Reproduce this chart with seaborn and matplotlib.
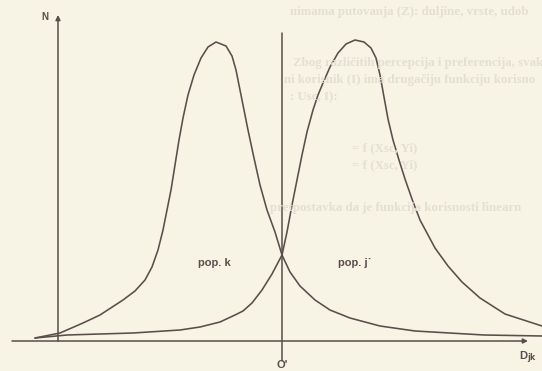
import numpy as np
import pandas as pd
import matplotlib
matplotlib.use("Agg")
import matplotlib.pyplot as plt
import seaborn as sns

# curve values (D along the axis, N upwards)
pop_k_d = [-23, 2, 25, 42, 65, 77, 87, 94, 100, 105, 109, 113, 117, 121, 125, 130, 136, 143, 150, 158,
           168, 174, 178, 181, 185, 190, 196, 202, 209, 217, 224, 232, 242, 257, 272, 292, 322, 357, 426, 484]
pop_k_n = [3, 8, 18, 26, 41, 50, 61, 74, 91, 111, 131, 151, 176, 201, 223, 246, 266, 283, 294, 299,
           295, 285, 271, 256, 236, 211, 183, 156, 131, 109, 86, 69, 55, 41, 31, 23, 15, 10, 6, 5]

pop_j_d = [-23, 9, 75, 122, 142, 162, 177, 185, 194, 204, 214, 224, 229, 234, 239, 244, 249, 255, 260, 265,
           272, 280, 288, 297, 306, 313, 318, 322, 326, 330, 335, 341, 347, 354, 362, 377, 390, 404, 422, 447, 484]
pop_j_n = [3, 6, 8, 11, 14, 19, 26, 30, 38, 51, 67, 86, 109, 136, 161, 186, 209, 231, 246, 258,
           274, 288, 297, 301, 299, 293, 283, 266, 244, 222, 201, 181, 162, 142, 121, 93, 75, 59, 43, 27, 15]

d_zero = 224  # O' - where the two populations cross

labels = ["pop. k", "pop. j˙"]

# faint text showing through from the other side of the page
bg_lines = ["nimama putovanja (Z): duljine, vrste, udob",
            "Zbog različitih percepcija i preferencija, svak",
            "ni korisnik (I) ima drugačiju funkciju korisno",
            ": Usc, I):",
            "= f (Xsc, Yi)",
            "= f (Xsc, Yi)",
            "pretpostavka da je funkcija korisnosti linearn"]
bg_x = [290, 293, 284, 290, 352, 352, 270]
bg_y = [12, 63, 80, 97, 148, 165, 208]

ink = "#5b4d4b"
paper = "#f7f3e5"

sns.set_style("white")

fig = plt.figure(figsize=(5.42, 3.71), dpi=100)
fig.patch.set_facecolor(paper)
ax = fig.add_axes([0, 0, 1, 1])
ax.set_facecolor(paper)

for t, x, y in zip(bg_lines, bg_x, bg_y):
    fig.text(x / 542, 1 - y / 371, t, fontsize=9.3, family="Liberation Serif", fontweight="bold",
             color="#e4dfd3", va="center", ha="left", zorder=0)

df = pd.concat([
    pd.DataFrame({"D": pop_k_d, "N": pop_k_n, "pop": "k"}),
    pd.DataFrame({"D": pop_j_d, "N": pop_j_n, "pop": "j"}),
])
sns.lineplot(data=df, x="D", y="N", units="pop", estimator=None, sort=False,
             color=ink, linewidth=1.15, ax=ax, legend=False)

# axes with arrows
ax.annotate("", xy=(470, 0), xytext=(-46, 0),
            arrowprops=dict(arrowstyle="-|>", color=ink, lw=1.1, mutation_scale=7, shrinkA=0, shrinkB=0))
ax.annotate("", xy=(0, 326), xytext=(0, 0),
            arrowprops=dict(arrowstyle="-|>", color=ink, lw=1.1, mutation_scale=7, shrinkA=0, shrinkB=0))
ax.plot([d_zero, d_zero], [-20, 308], color=ink, lw=1.1)

tfont = dict(family="Liberation Sans", fontweight="bold", color=ink)
ax.text(-13, 324, "N", fontsize=7, ha="center", va="center", **tfont)
ax.text(156, 78, labels[0], fontsize=8, ha="center", va="center", **tfont)
ax.text(297, 78, labels[1], fontsize=8, ha="center", va="center", **tfont)
ax.text(d_zero, -29, "O'", fontsize=8, ha="center", va="bottom", **tfont)
ax.text(461, -17, r"D$_{\mathbf{jk}}$", fontsize=8, ha="left", va="center", **tfont)

ax.set_xlim(-58, 484)
ax.set_ylim(-30, 341)
ax.set_axis_off()

plt.savefig("out.png", dpi=100, facecolor=paper)
plt.close()
